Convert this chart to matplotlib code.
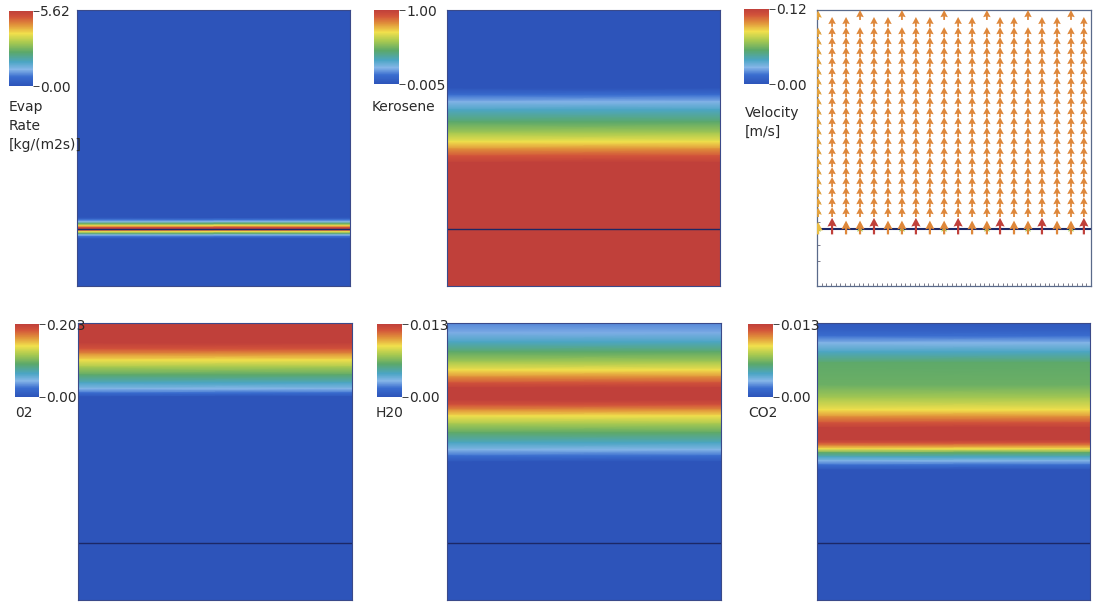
import numpy as np
import matplotlib
matplotlib.use('Agg')
import matplotlib.pyplot as plt
from matplotlib.colors import LinearSegmentedColormap, Normalize
from matplotlib.cm import ScalarMappable

# heights are fractions of the domain height, measured from the bottom
interface_z = 0.207

evap_z = [1.0, 0.248, 0.240, 0.233, 0.226, 0.219, 0.212, 0.207, 0.202,
          0.197, 0.190, 0.184, 0.178, 0.170, 0.0]
evap_val = [0.0, 0.0, 0.67, 1.24, 2.53, 3.93, 5.17, 5.62, 5.17,
            3.93, 2.53, 1.24, 0.67, 0.0, 0.0]

kero_z = [1.0, 0.717, 0.692, 0.667, 0.638, 0.594, 0.554, 0.522, 0.496,
          0.471, 0.446, 0.0]
kero_val = [0.005, 0.005, 0.124, 0.22, 0.32, 0.45, 0.58, 0.70, 0.82,
            0.92, 1.0, 1.0]

o2_z = [1.0, 0.928, 0.906, 0.888, 0.866, 0.841, 0.812, 0.783, 0.762,
        0.747, 0.733, 0.0]
o2_val = [0.203, 0.203, 0.187, 0.166, 0.142, 0.118, 0.091, 0.065, 0.045,
          0.024, 0.0, 0.0]

h2o_z = [1.0, 0.964, 0.931, 0.895, 0.859, 0.830, 0.805, 0.783, 0.765,
         0.722, 0.704, 0.686, 0.664, 0.635, 0.603, 0.567, 0.542, 0.520,
         0.498, 0.0]
h2o_val = [0.0020, 0.0027, 0.0042, 0.0059, 0.0075, 0.0091, 0.0107, 0.0120,
           0.0130, 0.0130, 0.0120, 0.0107, 0.0091, 0.0075, 0.0059, 0.0042,
           0.0029, 0.0016, 0.0, 0.0]

co2_z = [1.0, 0.975, 0.953, 0.928, 0.895, 0.856, 0.776, 0.729, 0.686,
         0.661, 0.639, 0.621, 0.578, 0.567, 0.556, 0.545, 0.531, 0.516,
         0.502, 0.487, 0.469, 0.0]
co2_val = [0.0003, 0.0008, 0.0016, 0.0029, 0.0042, 0.0059, 0.0062, 0.0075,
           0.0091, 0.0107, 0.0120, 0.0130, 0.0130, 0.0120, 0.0107, 0.0091,
           0.0059, 0.0042, 0.0029, 0.0016, 0.0, 0.0]

# velocity field (vertical component only), m/s
vel_cols_x = [0.004, 0.055, 0.106, 0.157, 0.208, 0.259, 0.310, 0.361, 0.412,
              0.464, 0.515, 0.566, 0.620, 0.668, 0.719, 0.770, 0.821, 0.876,
              0.927, 0.974]
vel_top_z = [0.982, 0.957, 0.957, 0.982, 0.957, 0.957, 0.982, 0.957, 0.957,
             0.982, 0.957, 0.957, 0.982, 0.957, 0.957, 0.982, 0.957, 0.957,
             0.982, 0.957]
vel_rows_z = [0.920, 0.884, 0.848, 0.812, 0.775, 0.739, 0.703, 0.667, 0.630,
              0.594, 0.558, 0.522, 0.486, 0.449, 0.413, 0.377, 0.341, 0.304,
              0.268]
vel_col_speed = [0.095, 0.1, 0.1, 0.1, 0.1, 0.1, 0.1, 0.1, 0.1, 0.1,
                 0.1, 0.1, 0.1, 0.1, 0.1, 0.1, 0.1, 0.1, 0.1, 0.1]
vel_bottom_z = 0.232
vel_bottom_speed = [0.09, 0.12, 0.1, 0.1, 0.12, 0.1, 0.1, 0.12, 0.1, 0.1,
                    0.12, 0.1, 0.1, 0.12, 0.1, 0.1, 0.12, 0.1, 0.1, 0.12]
vel_iface_speed = [0.07, 0.0, 0.03, 0.07, 0.0, 0.03, 0.07, 0.0, 0.03, 0.07,
                   0.0, 0.03, 0.07, 0.0, 0.03, 0.07, 0.0, 0.03, 0.07, 0.0]

panels = [
    dict(z=evap_z, v=evap_val, vmin=0.0, vmax=5.62, ticks=['0.00', '5.62'],
         label=['Evap', 'Rate', '[kg/(m2s)]']),
    dict(z=kero_z, v=kero_val, vmin=0.005, vmax=1.0, ticks=['0.005', '1.00'],
         label=['Kerosene']),
    dict(z=None, v=None, vmin=0.0, vmax=0.12, ticks=['0.00', '0.12'],
         label=['Velocity', '[m/s]']),
    dict(z=o2_z, v=o2_val, vmin=0.0, vmax=0.203, ticks=['0.00', '0.203'],
         label=['02']),
    dict(z=h2o_z, v=h2o_val, vmin=0.0, vmax=0.013, ticks=['0.00', '0.013'],
         label=['H20']),
    dict(z=co2_z, v=co2_val, vmin=0.0, vmax=0.013, ticks=['0.00', '0.013'],
         label=['CO2']),
]

cmap = LinearSegmentedColormap.from_list('sim', [
    (0.00, '#2d54ba'), (0.12, '#3a6dcf'), (0.22, '#86b6e8'),
    (0.32, '#4ba5c4'), (0.45, '#5ba86a'), (0.58, '#a8c950'),
    (0.70, '#f1e04c'), (0.82, '#e0903a'), (0.92, '#d2533a'),
    (1.00, '#c0403a')])

W, H = 1098, 603
fig = plt.figure(figsize=(W / 100, H / 100), dpi=100)

def px_axes(x0, y0, x1, y1):
    return fig.add_axes([x0 / W, 1 - y1 / H, (x1 - x0) / W, (y1 - y0) / H])

panel_px = [(77, 10, 350, 286), (447, 10, 720, 286), (817, 10, 1091, 286),
            (78, 323, 352, 600), (447, 323, 721, 600), (817, 323, 1090, 600)]
cbar_px = [(9, 11, 33, 86), (374, 10, 399, 84), (744, 9, 769, 84),
           (15, 324, 39, 397), (377, 324, 402, 397), (748, 324, 773, 397)]
label_px = [(9, 107), (372, 107), (745, 113), (15, 413), (376, 413), (748, 413)]

txt_color = '#2a2a2a'
navy = '#1c2866'

for i, p in enumerate(panels):
    ax = px_axes(*panel_px[i])
    norm = Normalize(p['vmin'], p['vmax'])
    if p['z'] is not None:
        z = np.array(p['z'])
        c = np.column_stack([p['v'], p['v']])
        ax.pcolormesh([0, 1], z, c, cmap=cmap, norm=norm, shading='gouraud')
        ax.axhline(interface_z, color=navy, lw=1.0)
        for s in ax.spines.values():
            s.set_color('#3a4a8a')
            s.set_linewidth(0.8)
        ax.set_xticks([])
        ax.set_yticks([])
    else:
        xs, ys, vs = [], [], []
        for j, x in enumerate(vel_cols_x):
            for zz in [vel_top_z[j]] + vel_rows_z:
                xs.append(x); ys.append(zz - 0.018); vs.append(vel_col_speed[j])
            if vel_iface_speed[j] > 0:
                xs.append(x); ys.append(interface_z - 0.014); vs.append(vel_iface_speed[j])
        vs = np.array(vs)
        ax.quiver(xs, ys, np.zeros_like(vs), vs, color=cmap(norm(vs)),
                  angles='xy', scale_units='y', scale=2.8, width=0.0065,
                  headwidth=4.2, headlength=4.0, headaxislength=3.6,
                  minshaft=1.2, zorder=3)
        bs = np.array(vel_bottom_speed)
        ax.quiver(vel_cols_x, [vel_bottom_z - 0.045] * len(bs), np.zeros_like(bs),
                  bs, color=cmap(norm(bs)), angles='xy', scale_units='y',
                  scale=2.0, width=0.008, headwidth=4.2, headlength=4.0,
                  headaxislength=3.6, zorder=4)
        ax.axhline(interface_z, color=navy, lw=1.5, zorder=2)
        for s in ax.spines.values():
            s.set_color('#5a6a8a')
            s.set_linewidth(0.9)
        ax.set_yticks(vel_rows_z + [vel_bottom_z, 0.15, 0.09])
        ax.set_xticks(np.linspace(0.0, 1.0, 60))
        ax.tick_params(direction='in', length=2, width=0.6, color='#667',
                       labelleft=False, labelbottom=False)
    ax.set_xlim(0, 1)
    ax.set_ylim(0, 1)

    cax = px_axes(*cbar_px[i])
    cb = fig.colorbar(ScalarMappable(norm=norm, cmap=cmap), cax=cax,
                      ticks=[p['vmin'], p['vmax']])
    cb.outline.set_visible(False)
    cb.ax.set_yticklabels(p['ticks'])
    cb.ax.tick_params(length=4, width=0.7, color='#444', labelsize=10,
                      labelcolor=txt_color, pad=1)

    lx, ly = label_px[i]
    for k, line in enumerate(p['label']):
        fig.text(lx / W, 1 - (ly + 19 * k) / H, line, fontsize=10,
                 color=txt_color, va='center', ha='left')

fig.savefig('out.png', dpi=100)
